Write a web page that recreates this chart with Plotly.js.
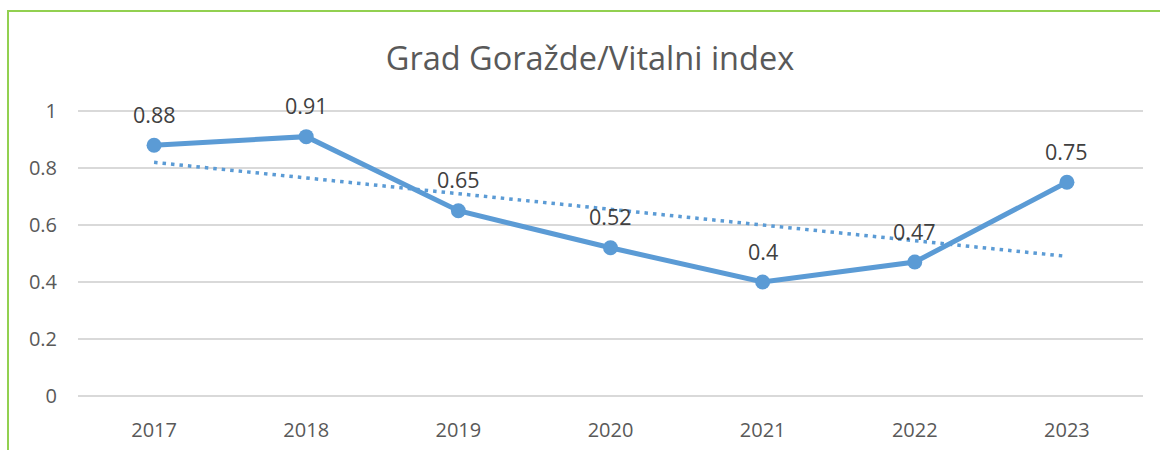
<!DOCTYPE html>
<html>
<head>
<meta charset="utf-8">
<script src="https://cdn.plot.ly/plotly-3.0.1.min.js"></script>
<style>
html,body{margin:0;padding:0;background:#fff;}
#wrap{position:relative;width:1160px;height:450px;}
#chart{width:1160px;height:450px;}
#frame{position:absolute;left:7px;top:10px;width:1153px;height:440px;border-left:2.5px solid #92D050;border-top:2.5px solid #92D050;pointer-events:none;box-sizing:border-box;}
</style>
</head>
<body>
<div id="wrap"><div id="chart"></div><div id="frame"></div></div>
<script>
const years = ['2017','2018','2019','2020','2021','2022','2023'];
const vitalIndex = [0.88, 0.91, 0.65, 0.52, 0.4, 0.47, 0.75];
const trendYears = ['2017','2023'];
const trendValues = [0.82, 0.49];
const yTicks = [0, 0.2, 0.4, 0.6, 0.8, 1];
const yTickText = ['0','0.2','0.4','0.6','0.8','1'];

const font = 'Open Sans, Noto Sans, sans-serif';
const blue = '#5B9BD5';

const traces = [
  {
    x: trendYears, y: trendValues, type: 'scatter', mode: 'lines',
    line: {color: blue, width: 3.5, dash: '3.5px,5px'}, hoverinfo: 'skip', showlegend: false
  },
  {
    x: years, y: vitalIndex, type: 'scatter', mode: 'lines+markers',
    line: {color: blue, width: 5},
    marker: {color: blue, size: 15},
    showlegend: false, cliponaxis: false
  }
];

const annotations = vitalIndex.map((v, i) => ({
  x: i, y: v, xref: 'x', yref: 'y',
  text: String(v), showarrow: false, yshift: 31,
  xanchor: 'center', yanchor: 'middle',
  font: {family: font, size: 21.5, color: '#404040'}
}));

const layout = {
  width: 1160, height: 450,
  margin: {l: 78, r: 17, t: 108, b: 51},
  paper_bgcolor: '#fff', plot_bgcolor: '#fff',
  title: {text: 'Grad Goražde/Vitalni index', x: 0.5086, xanchor: 'center', y: 0.87, yanchor: 'middle',
          font: {family: font, size: 32.5, color: '#595959'}},
  annotations: annotations,
  xaxis: {
    type: 'category', categoryorder: 'array', categoryarray: years,
    range: [-0.5, 6.5], showgrid: false, zeroline: false, showline: false,
    ticks: '', tickfont: {family: font, size: 20, color: '#595959'}, ticklabelstandoff: 17
  },
  yaxis: {
    range: [-0.0105, 1.0105], tickvals: yTicks, ticktext: yTickText,
    showgrid: true, gridcolor: '#D9D9D9', gridwidth: 1.5, zeroline: false, showline: false,
    ticks: '', tickfont: {family: font, size: 20, color: '#595959'}, ticklabelstandoff: 20
  }
};

Plotly.newPlot('chart', traces, layout, {displayModeBar: false});
</script>
</body>
</html>
